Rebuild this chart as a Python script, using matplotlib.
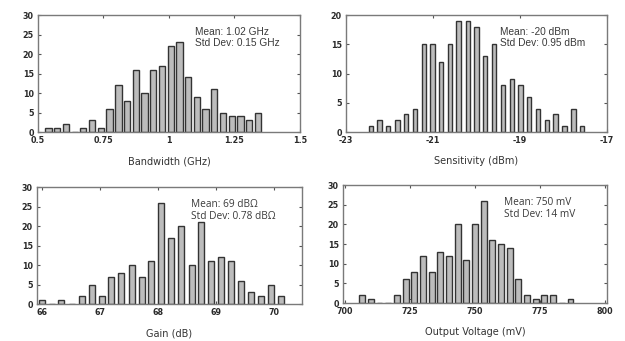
import matplotlib
matplotlib.use("Agg")
import matplotlib.pyplot as plt

# ---------------- data ----------------
bw_centers = [0.540, 0.573, 0.607, 0.640, 0.673, 0.707, 0.740, 0.773, 0.807, 0.840,
              0.873, 0.907, 0.940, 0.973, 1.007, 1.040, 1.073, 1.107, 1.140, 1.173,
              1.207, 1.240, 1.273, 1.307, 1.340]
bw_counts = [1, 1, 2, 0, 1, 3, 1, 6, 12, 8, 16, 10, 16, 17, 22, 23, 14, 9, 6, 11, 5, 4, 4, 3, 5]
bw_ticks = [0.5, 0.75, 1, 1.25, 1.5]
bw_ticklabels = ["0.5", "0.75", "1", "1.25", "1.5"]

sens_centers = [-22.43, -22.23, -22.03, -21.82, -21.62, -21.42, -21.21, -21.01, -20.81, -20.61,
                -20.41, -20.20, -20.00, -19.80, -19.60, -19.39, -19.19, -18.99, -18.79, -18.58,
                -18.38, -18.18, -17.98, -17.77, -17.57]
sens_counts = [1, 2, 1, 2, 3, 4, 15, 15, 12, 15, 19, 19, 18, 13, 15, 8, 9, 8, 6, 4, 2, 3, 1, 4, 1]
sens_ticks = [-23, -21, -19, -17]
sens_ticklabels = ["-23", "-21", "-19", "-17"]

gain_centers = [66.00, 66.17, 66.34, 66.52, 66.69, 66.86, 67.03, 67.20, 67.37, 67.55,
                67.72, 67.89, 68.06, 68.23, 68.40, 68.58, 68.75, 68.92, 69.09, 69.26,
                69.43, 69.61, 69.78, 69.95, 70.12]
gain_counts = [1, 0, 1, 0, 2, 5, 2, 7, 8, 10, 7, 11, 26, 17, 20, 10, 21, 11, 12, 11, 6, 3, 2, 5, 2]
gain_ticks = [66, 67, 68, 69, 70]
gain_ticklabels = ["66", "67", "68", "69", "70"]

vout_centers = [706.7, 710.0, 713.4, 716.7, 720.0, 723.4, 726.7, 730.0, 733.4, 736.7,
                740.0, 743.4, 746.7, 750.0, 753.4, 756.7, 760.0, 763.4, 766.7, 770.0,
                773.4, 776.7, 780.0, 783.4, 786.7]
vout_counts = [2, 1, 0, 0, 2, 6, 8, 12, 8, 13, 12, 20, 11, 20, 26, 16, 15, 14, 6, 2, 1, 2, 2, 0, 1]
vout_extra_x = [725.0]
vout_extra_counts = [1]
vout_ticks = [700, 725, 750, 775, 800]
vout_ticklabels = ["700", "725", "750", "775", "800"]

# ---------------- style ----------------
BAR_FC = "#bcbcbc"
BAR_EC = "#333333"
SPINE = "#7a7a7a"
TICKC = "#2a2a2a"
LABELC = "#333333"

fig = plt.figure(figsize=(6.25, 3.41), dpi=100)

panels = [
    dict(rect=[0.0608, 0.6129, 0.419, 0.343], x=bw_centers, y=bw_counts, frac=0.72, step=1/30,
         xlim=(0.5, 1.5), ylim=(0, 30), xt=bw_ticks, xtl=bw_ticklabels, yt=range(0, 31, 5),
         xlabel="Bandwidth (GHz)", text="Mean: 1.02 GHz\nStd Dev: 0.15 GHz",
         tpos=(0.60, 0.90), font="Liberation Sans"),
    dict(rect=[0.5536, 0.6129, 0.4176, 0.343], x=sens_centers, y=sens_counts, frac=0.5, step=0.2025,
         xlim=(-23, -17), ylim=(0, 20), xt=sens_ticks, xtl=sens_ticklabels, yt=range(0, 21, 5),
         xlabel="Sensitivity (dBm)", text="Mean: -20 dBm\nStd Dev: 0.95 dBm",
         tpos=(0.59, 0.90), font="Liberation Sans"),
    dict(rect=[0.0592, 0.1085, 0.424, 0.343], x=gain_centers, y=gain_counts, frac=0.6, step=0.1717,
         xlim=(65.92, 70.48), ylim=(0, 30), xt=gain_ticks, xtl=gain_ticklabels, yt=range(0, 31, 5),
         xlabel="Gain (dB)", text="Mean: 69 dB\u03a9\nStd Dev: 0.78 dB\u03a9",
         tpos=(0.58, 0.90), font="Open Sans"),
    dict(rect=[0.5488, 0.1114, 0.4224, 0.346], x=vout_centers, y=vout_counts, frac=0.65, step=3.333,
         xlim=(699.3, 800.8), ylim=(0, 30), xt=vout_ticks, xtl=vout_ticklabels, yt=range(0, 31, 5),
         xlabel="Output Voltage (mV)", text="Mean: 750 mV\nStd Dev: 14 mV",
         tpos=(0.61, 0.90), font="Open Sans"),
]

axes = []
for p in panels:
    ax = fig.add_axes(p["rect"])
    ax.bar(p["x"], p["y"], width=p["frac"] * p["step"], color=BAR_FC,
           edgecolor=BAR_EC, linewidth=1.0, zorder=2)
    ax.set_xlim(*p["xlim"])
    ax.set_ylim(*p["ylim"])
    ax.set_xticks(p["xt"])
    ax.set_xticklabels(p["xtl"])
    ax.set_yticks(list(p["yt"]))
    ax.tick_params(direction="in", length=2.5, width=0.8, color="#555555",
                   top=True, right=True, labelsize=5.8, labelcolor=TICKC, pad=3)
    for lab in ax.get_xticklabels() + ax.get_yticklabels():
        lab.set_fontweight("bold")
    for s in ax.spines.values():
        s.set_color(SPINE)
        s.set_linewidth(1.0)
    ax.set_xlabel(p["xlabel"], fontsize=7, color=LABELC, labelpad=8)
    ax.text(p["tpos"][0], p["tpos"][1], p["text"], transform=ax.transAxes,
            ha="left", va="top", fontsize=7.3, color="#3a3a3a",
            family=[p["font"], "DejaVu Sans"], linespacing=1.15, zorder=3)
    axes.append(ax)

# small extra sliver bar in the output-voltage histogram
axes[3].bar(vout_extra_x, vout_extra_counts, width=0.6, color=BAR_FC,
            edgecolor=BAR_EC, linewidth=0.6, zorder=2)

fig.savefig("out.png", dpi=100)
